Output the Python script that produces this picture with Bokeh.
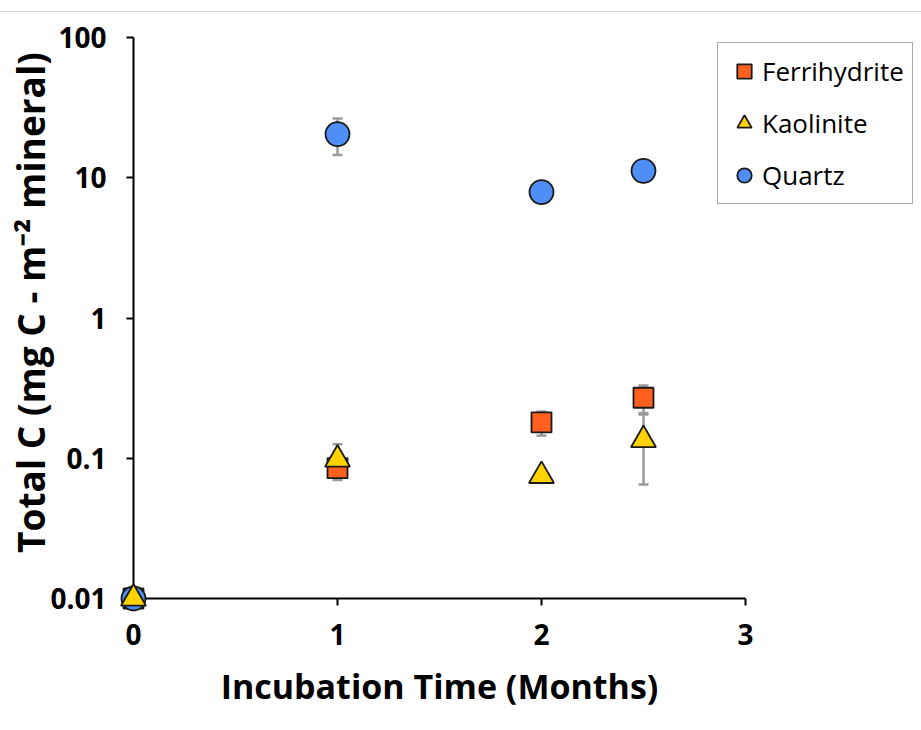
import math
from bokeh.plotting import figure
from bokeh.models import (ColumnDataSource, Range1d, FixedTicker, CustomJSTickFormatter,
                          Whisker, TeeHead, Legend, LegendItem, Div)
from bokeh.core.properties import value
from bokeh.layouts import column
from bokeh.embed import file_html
from bokeh.resources import INLINE

# Incubation times (months) and total carbon per mineral (mg C m^-2)
months = [0, 1, 2, 2.5]
ferrihydrite = [0.01, 0.085, 0.18, 0.27]
ferrihydrite_sd = [0, 0.006, 0.035, 0.06]
kaolinite = [0.01, 0.098, 0.075, 0.135]
kaolinite_sd = [0, 0.028, 0, 0.07]
quartz = [0.01, 20.5, 7.9, 11.2]
quartz_sd = [0, 6.0, 0, 0]

x_ticks = [0, 1, 2, 3]
y_ticks = [0.01, 0.1, 1, 10, 100]

x_title = "Incubation Time (Months)"
y_title = "Total C (mg C - m\u207b\u00b2   mineral)"

FONT = "Open Sans"
GREY = "#9a9a9a"
EDGE = "#1a1a1a"

# The drawing area runs on to the right edge so the legend can sit past the
# end of the x axis; the axis itself is bounded to 0..3.
AXIS_W = 612
FRAME_W = 788
FRAME_H = 561
x_end = x_ticks[-1] * FRAME_W / AXIS_W

p = figure(frame_width=FRAME_W, frame_height=FRAME_H, x_range=Range1d(0, x_end),
           y_range=Range1d(y_ticks[0], y_ticks[-1]), y_axis_type="log",
           output_backend="svg", toolbar_location=None,
           min_border_left=133, min_border_right=0,
           min_border_top=25, min_border_bottom=120)
p.outline_line_color = None
p.grid.visible = False
p.background_fill_color = "white"

for ax in (p.xaxis[0], p.yaxis[0]):
    ax.axis_line_color = "black"
    ax.axis_line_width = 2
    ax.major_tick_line_color = "black"
    ax.major_tick_line_width = 2
    ax.major_tick_in = 0
    ax.major_tick_out = 7
    ax.minor_tick_line_color = None
    ax.major_label_text_font = FONT
    ax.major_label_text_font_style = "bold"
    ax.major_label_text_font_size = "28px"
    ax.major_label_text_color = "black"

p.xaxis.bounds = (x_ticks[0], x_ticks[-1])
p.xaxis.ticker = FixedTicker(ticks=x_ticks)
p.xaxis.major_label_standoff = 18

p.yaxis.ticker = FixedTicker(ticks=y_ticks)
p.yaxis.formatter = CustomJSTickFormatter(code="return tick.toString()")
p.yaxis.major_label_standoff = 20

# axis titles: x centred under the bounded axis, y a little above mid-height
tx = p.text(x=[(x_ticks[0] + x_ticks[-1]) / 2], y=[y_ticks[0]], text=[x_title],
            y_offset=87, text_align="center", text_baseline="middle",
            text_font=value(FONT), text_font_style="bold", text_font_size="34px",
            text_color="black")
ty = p.text(x=[x_ticks[0]], y=[math.sqrt(y_ticks[0] * y_ticks[-1])], text=[y_title],
            x_offset=-103, y_offset=-25, angle=math.pi / 2,
            text_align="center", text_baseline="middle",
            text_font=value(FONT), text_font_style="bold", text_font_size="37px",
            text_color="black")
for r in (tx, ty):
    r.level = "overlay"


def add_errors(vals, sds):
    xs, lo, hi = [], [], []
    for m, v, s in zip(months, vals, sds):
        if s > 0:
            xs.append(m)
            lo.append(v - s)
            hi.append(v + s)
    src = ColumnDataSource(dict(x=xs, lower=lo, upper=hi))
    w = Whisker(source=src, base="x", lower="lower", upper="upper", dimension="height",
                line_color=GREY, line_width=2.5,
                upper_head=TeeHead(size=10, line_color=GREY, line_width=2.5),
                lower_head=TeeHead(size=10, line_color=GREY, line_width=2.5))
    w.level = "glyph"
    p.add_layout(w)


add_errors(ferrihydrite, ferrihydrite_sd)
add_errors(kaolinite, kaolinite_sd)
add_errors(quartz, quartz_sd)

r_f = p.scatter(months, ferrihydrite, marker="square", size=20,
                fill_color="#ff5f1f", line_color=EDGE, line_width=1.8)
r_q = p.scatter(months, quartz, marker="circle", size=24,
                fill_color="#4f8ef7", line_color=EDGE, line_width=1.8)
r_k = p.scatter(months, kaolinite, marker="triangle", size=25,
                fill_color="#ffd200", line_color=EDGE, line_width=1.8)
for r in (r_f, r_q, r_k):
    r.level = "overlay"

legend = Legend(items=[LegendItem(label="Ferrihydrite", renderers=[r_f]),
                       LegendItem(label="Kaolinite", renderers=[r_k]),
                       LegendItem(label="Quartz", renderers=[r_q])],
                location=(584, 394), orientation="vertical",
                glyph_width=36, glyph_height=40, label_height=40,
                spacing=12, padding=8, margin=0, label_standoff=0,
                label_text_font=FONT, label_text_font_size="26px",
                label_text_color="black",
                border_line_color="#555555", border_line_width=1.5,
                background_fill_color="white", background_fill_alpha=1)
p.add_layout(legend)

# thin rule across the top of the page
rule = Div(width=921, height=12, margin=0,
           styles={"border-bottom": "1px solid #d4d4d4", "box-sizing": "border-box"})

page = column(rule, p, spacing=0)
open("out.html", "w").write(file_html(page, INLINE))
